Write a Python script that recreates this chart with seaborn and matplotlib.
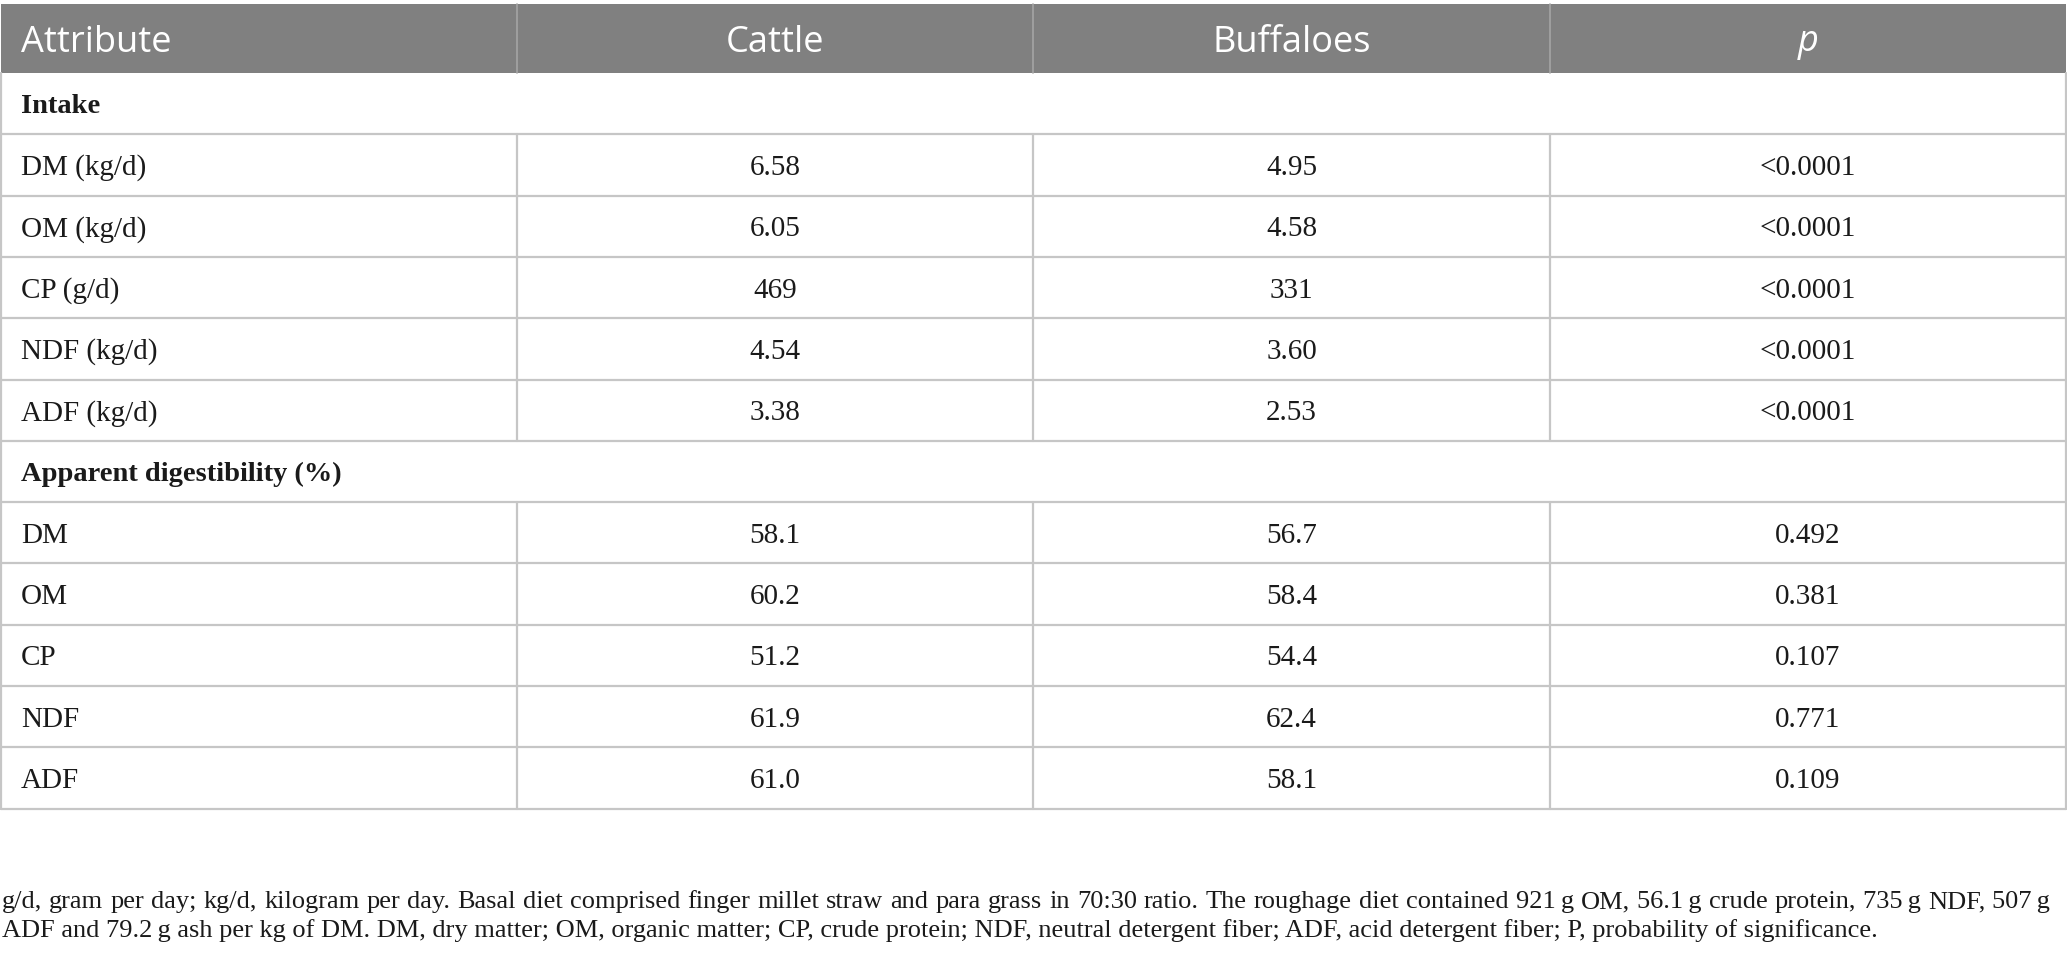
import matplotlib
matplotlib.use("Agg")
import matplotlib.pyplot as plt
import seaborn as sns

# table content
header = ["Attribute", "Cattle", "Buffaloes", "p"]
section_names = ["Intake", "Apparent digestibility (%)"]

intake_attr = ["DM (kg/d)", "OM (kg/d)", "CP (g/d)", "NDF (kg/d)", "ADF (kg/d)"]
intake_cattle = ["6.58", "6.05", "469", "4.54", "3.38"]
intake_buffalo = ["4.95", "4.58", "331", "3.60", "2.53"]
intake_p = ["<0.0001", "<0.0001", "<0.0001", "<0.0001", "<0.0001"]

dig_attr = ["DM", "OM", "CP", "NDF", "ADF"]
dig_cattle = ["58.1", "60.2", "51.2", "61.9", "61.0"]
dig_buffalo = ["56.7", "58.4", "54.4", "62.4", "58.1"]
dig_p = ["0.492", "0.381", "0.107", "0.771", "0.109"]

footnote_lines = [
    "g/d, gram per day; kg/d, kilogram per day. Basal diet comprised finger millet straw and para grass "
    "in 70:30 ratio. The roughage diet contained 921\u2009g OM, 56.1\u2009g crude protein, 735\u2009g NDF, 507\u2009g",
    "ADF and 79.2\u2009g ash per kg of DM. DM, dry matter; OM, organic matter; CP, crude protein; NDF, "
    "neutral detergent fiber; ADF, acid detergent fiber; P, probability of significance.",
]

sns.set_theme(style="white")
SERIF = ["Liberation Serif", "DejaVu Serif"]
SANS = ["Open Sans", "DejaVu Sans"]

W, H = 2067, 957
fig = plt.figure(figsize=(W / 100, H / 100), dpi=100)
ax = fig.add_axes([0, 0, 1, 1])
ax.set_xlim(0, W)
ax.set_ylim(H, 0)
ax.axis("off")

col_edges = [1, 517, 1033, 1550, 2066]
head_top, head_bot = 4, 73
row_h = 61.3
line_c = "#c6c6c6"
ink = "#1a1a1a"

# header
ax.add_patch(plt.Rectangle((col_edges[0], head_top), col_edges[-1] - col_edges[0],
                           head_bot - head_top, color="#808080", lw=0))
for x in col_edges[1:-1]:
    ax.plot([x, x], [head_top, head_bot], color="#a5a5a5", lw=1.2)
hy = (head_top + head_bot) / 2 + 4
ax.text(21, hy, header[0], color="white", fontsize=26, family=SANS, va="center", ha="left")
for i, h in enumerate(header[1:], start=1):
    cx = (col_edges[i] + col_edges[i + 1]) / 2
    ax.text(cx, hy, h, color="white", fontsize=26, family=SANS, va="center", ha="center",
            style="italic" if h == "p" else "normal")

# body rows
rows = [("section", section_names[0])]
rows += [("data", (a, c, b, p)) for a, c, b, p in zip(intake_attr, intake_cattle, intake_buffalo, intake_p)]
rows += [("section", section_names[1])]
rows += [("data", (a, c, b, p)) for a, c, b, p in zip(dig_attr, dig_cattle, dig_buffalo, dig_p)]

y = head_bot
for kind, content in rows:
    y0, y1 = y, y + row_h
    cy = (y0 + y1) / 2 + 3
    ax.plot([col_edges[0], col_edges[-1]], [y1, y1], color=line_c, lw=1.6)
    ax.plot([col_edges[0], col_edges[0]], [y0, y1], color=line_c, lw=1.6)
    ax.plot([col_edges[-1], col_edges[-1]], [y0, y1], color=line_c, lw=1.6)
    if kind == "section":
        ax.text(21, cy, content, fontsize=20.5, family=SERIF, weight="bold",
                color=ink, va="center", ha="left")
    else:
        for x in col_edges[1:-1]:
            ax.plot([x, x], [y0, y1], color=line_c, lw=1.6)
        ax.text(21, cy, content[0], fontsize=21, family=SERIF, color=ink,
                va="center", ha="left")
        for i, val in enumerate(content[1:], start=1):
            cx = (col_edges[i] + col_edges[i + 1]) / 2
            ax.text(cx, cy, val, fontsize=21, family=SERIF, color=ink,
                    va="center", ha="center")
    y = y1

# footnote, first line justified
fig.canvas.draw()
renderer = fig.canvas.get_renderer()


def text_width(s, size):
    t = ax.text(0, 0, s, fontsize=size, family=SERIF)
    bb = t.get_window_extent(renderer)
    t.remove()
    return bb.width


fn_size = 19
fn_y = [902, 931]
left, right = 2, 2050
words = footnote_lines[0].split(" ")
widths = [text_width(w, fn_size) for w in words]
gap = (right - left - sum(widths)) / (len(words) - 1)
x = left
for w, wd in zip(words, widths):
    ax.text(x, fn_y[0], w, fontsize=fn_size, family=SERIF, color=ink,
            va="center", ha="left")
    x += wd + gap
ax.text(left, fn_y[1], footnote_lines[1], fontsize=fn_size, family=SERIF, color=ink,
        va="center", ha="left")

fig.savefig("out.png", dpi=100)
